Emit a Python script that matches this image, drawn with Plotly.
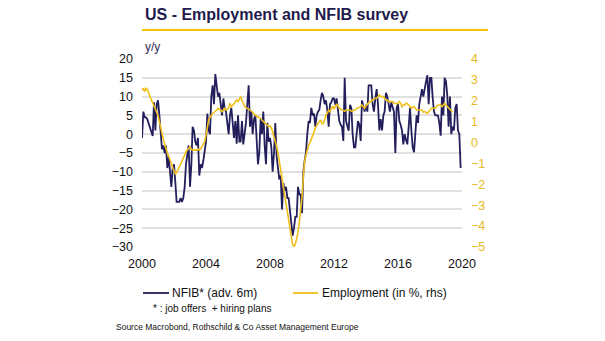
import plotly.graph_objects as go
import pandas as pd

# NFIB* (adv. 6m), monthly from Jan 2000, left axis
nfib_2000 = [-1, 6, 4.5, 4.5, 4, 3, 2, 1, -0.5, 8.5, 1, 8]
nfib_2001 = [9, 5, -1, -4, -3, -5, -3, -9, -6, -10, -14, -9]
nfib_2002 = [-8, -13, -18, -18, -18, -17, -18, -17, -14, -8, -5, -3]
nfib_2003 = [-14, -8, 2, 1, -2, -3, -1, -11, -8, -9, -7, -4]
nfib_2004 = [-2, 5.5, 1, 0, 10, 13, 8, 16, 12, 10, 11, 7]
nfib_2005 = [5, 9.5, 7, 6, 2, 0, 5, 7, 3, -1, 3.5, -2.5]
nfib_2006 = [5, -2, -2, 3.5, -2.7, 0, 3, 8, 13, 2, 6, 0]
nfib_2007 = [4, 5, 0, -8, -5, 4, 0, 6, -3, -8, 3, -2]
nfib_2008 = [-1, -3.5, -10, -5, 3, -6, -9, -12, -11, -20, -13, -15]
nfib_2009 = [-14, -17, -17, -21, -25, -27, -25, -22, -22, -14, -16, -16]
nfib_2010 = [-21, -10, -7, -5, 0, 3.5, 3, 7, 5, 5.5, 2, 5]
nfib_2011 = [6, 6.5, 9, 11, 10, 8, 9, 6.5, 2, 8, 8.5, 9.5]
nfib_2012 = [9.5, 7.8, 9.5, 6, 3.5, 2.5, 2, -1.8, 15, 3.5, 2, 0.9]
nfib_2013 = [7.8, 7, 0, -3.5, -3.5, 0, 3.5, 2.5, -1.8, 9, 7, 6]
nfib_2014 = [7.8, 6, 13, 13, 13, 8, 6, 9.5, 12, 8, 1, 4]
nfib_2015 = [1, 5, 6, 11, 10, 8, 6, 8.5, 7, 6, -5, 7]
nfib_2016 = [8, 3.5, 2.5, 1, -2.7, 0, -1.5, -2.7, 2, 7, 1, -3.5]
nfib_2017 = [-4.8, 0, 5, 3, 8, 10, 12, 10, 12.5, 14, 15.7, 8]
nfib_2018 = [15, 15, 10, 6, 5, 5, 5, 3, -0.4, 10, 5, 15]
nfib_2019 = [14, 10, 2, 10, 0, 2, 1, 7, 8, 1, 0, -9]

# Employment (in %, rhs), monthly from Jan 2000
emp_2000 = [2.5, 2.6, 2.44, 2.6, 2.55, 2.35, 2.2, 2.04, 1.9, 1.72, 1.6, 1.45]
emp_2001 = [1.3, 1.05, 0.75, 0.45, 0.15, -0.12, -0.35, -0.5, -0.65, -0.8, -1.0, -1.2]
emp_2002 = [-1.39, -1.5, -1.45, -1.31, -1.2, -1.07, -0.95, -0.75, -0.6, -0.44, -0.36, -0.28]
emp_2003 = [-0.2, -0.33, -0.36, -0.36, -0.36, -0.36, -0.3, -0.36, -0.3, -0.2, -0.12, 0.04]
emp_2004 = [0.36, 0.7, 1.08, 1.2, 1.32, 1.4, 1.44, 1.48, 1.56, 1.64, 1.6, 1.56]
emp_2005 = [1.48, 1.56, 1.64, 1.56, 1.6, 1.64, 1.88, 1.72, 1.8, 1.85, 1.96, 2.04]
emp_2006 = [1.96, 2.12, 2.2, 2.0, 1.9, 1.72, 1.68, 1.64, 1.64, 1.56, 1.52, 1.44]
emp_2007 = [1.4, 1.32, 1.24, 1.24, 1.2, 1.16, 1.08, 1.0, 0.92, 0.88, 0.84, 0.76]
emp_2008 = [0.8, 0.7, 0.52, 0.3, 0.1, -0.2, -0.5, -0.9, -1.3, -1.7, -2.1, -2.5]
emp_2009 = [-2.83, -3.3, -3.8, -4.2, -4.6, -4.9, -4.98, -4.85, -4.6, -4.3, -3.8, -3.2]
emp_2010 = [-2.6, -1.6, -0.9, -0.6, -0.3, -0.12, 0.0, 0.15, 0.36, 0.5, 0.7, 0.84]
emp_2011 = [0.92, 1.0, 1.08, 0.9, 0.9, 1.08, 1.32, 1.4, 1.56, 1.48, 1.6, 1.75]
emp_2012 = [1.6, 1.75, 1.85, 1.75, 1.64, 1.6, 1.56, 1.56, 1.5, 1.56, 1.56, 1.56]
emp_2013 = [1.56, 1.5, 1.5, 1.56, 1.56, 1.64, 1.64, 1.68, 1.72, 1.8, 1.72, 1.64]
emp_2014 = [1.75, 1.85, 1.9, 1.96, 1.96, 2.04, 2.1, 2.12, 2.12, 2.2, 2.28, 2.2]
emp_2015 = [2.2, 2.2, 2.12, 2.04, 2.04, 1.96, 1.96, 1.96, 1.96, 1.9, 1.88, 1.85]
emp_2016 = [1.88, 1.96, 1.88, 1.72, 1.8, 1.8, 1.88, 1.86, 1.8, 1.72, 1.64, 1.7]
emp_2017 = [1.72, 1.64, 1.56, 1.56, 1.56, 1.56, 1.56, 1.45, 1.48, 1.45, 1.4, 1.48]
emp_2018 = [1.56, 1.64, 1.64, 1.64, 1.64, 1.72, 1.8, 1.8, 1.8, 1.72, 1.8, 1.88]
emp_2019 = [1.8, 1.72, 1.64, 1.56, 1.5, 1.45]

x_ticks = [2000, 2004, 2008, 2012, 2016, 2020]
left_ticks = [20, 15, 10, 5, 0, -5, -10, -15, -20, -25, -30]
right_ticks = [4, 3, 2, 1, 0, -1, -2, -3, -4, -5]

nfib = (nfib_2000 + nfib_2001 + nfib_2002 + nfib_2003 + nfib_2004 + nfib_2005 + nfib_2006
        + nfib_2007 + nfib_2008 + nfib_2009 + nfib_2010 + nfib_2011 + nfib_2012 + nfib_2013
        + nfib_2014 + nfib_2015 + nfib_2016 + nfib_2017 + nfib_2018 + nfib_2019)
emp = (emp_2000 + emp_2001 + emp_2002 + emp_2003 + emp_2004 + emp_2005 + emp_2006 + emp_2007
       + emp_2008 + emp_2009 + emp_2010 + emp_2011 + emp_2012 + emp_2013 + emp_2014 + emp_2015
       + emp_2016 + emp_2017 + emp_2018 + emp_2019)

dates_nfib = pd.date_range("2000-01-01", periods=len(nfib), freq="MS")
dates_emp = pd.date_range("2000-01-01", periods=len(emp), freq="MS")

NAVY = "#231f5c"
GOLD = "#f0bf1a"
FONT = "Liberation Sans, Arial, sans-serif"

fig = go.Figure()
fig.add_trace(go.Scatter(x=dates_nfib, y=nfib, mode="lines", name="NFIB* (adv. 6m)",
                         line=dict(color=NAVY, width=1.8), yaxis="y"))
fig.add_trace(go.Scatter(x=dates_emp, y=emp, mode="lines", name="Employment (in %, rhs)",
                         line=dict(color=GOLD, width=1.6), yaxis="y2"))

L, R, T, B = 142, 143, 59, 94
W, H = 605, 341
pw, ph = W - L - R, H - T - B

def px(xp):
    return (xp - L) / pw

def py(yp):
    return (H - B - yp) / ph

fig.update_layout(
    width=W, height=H,
    margin=dict(l=L, r=R, t=T, b=B, pad=0),
    paper_bgcolor="white", plot_bgcolor="white",
    showlegend=False,
    font=dict(family=FONT, size=12, color="#111111"),
    xaxis=dict(type="date", range=["2000-01-01", "2020-01-01"],
               tickvals=[f"{y}-01-01" for y in x_ticks], ticktext=[str(y) for y in x_ticks],
               showgrid=False, zeroline=False, showline=False, ticks="",
               ticklabelstandoff=7,
               tickfont=dict(size=12.5, color="#111111")),
    yaxis=dict(range=[-30, 20], tickvals=left_ticks, showgrid=True,
               gridcolor="#e0e0e0", gridwidth=1.6, zeroline=False, showline=False,
               ticks="", ticklabelstandoff=8, tickfont=dict(size=12.5, color="#111111")),
    yaxis2=dict(range=[-5, 4], tickvals=right_ticks, overlaying="y", side="right",
                showgrid=False, zeroline=False, showline=False, ticks="",
                ticklabelstandoff=8, tickfont=dict(size=12.5, color="#e8b923")),
)

shapes = [
    dict(type="line", xref="paper", yref="paper", x0=px(142), x1=px(488), y0=py(30), y1=py(30),
         line=dict(color="#f5c400", width=2)),
    dict(type="line", xref="paper", yref="paper", x0=px(143), x1=px(169), y0=py(293), y1=py(293),
         line=dict(color=NAVY, width=1.8)),
    dict(type="line", xref="paper", yref="paper", x0=px(293), x1=px(318), y0=py(293), y1=py(293),
         line=dict(color=GOLD, width=1.8)),
]
fig.update_layout(shapes=shapes)

ann = [
    dict(text="<b>US - Employment and NFIB survey</b>", x=px(143), y=py(14), xanchor="left",
         yanchor="middle", font=dict(size=16, color="#1f1b4d")),
    dict(text="y/y", x=px(143), y=py(47), xanchor="left", yanchor="middle",
         font=dict(size=12, color="#2e2a5e")),
    dict(text="NFIB* (adv. 6m)", x=px(170), y=py(293), xanchor="left", yanchor="middle",
         font=dict(size=12, color="#111111")),
    dict(text="Employment (in %, rhs)", x=px(320), y=py(293), xanchor="left", yanchor="middle",
         font=dict(size=12, color="#111111")),
    dict(text="* : job offers  + hiring plans", x=px(151), y=py(308), xanchor="left",
         yanchor="middle", font=dict(size=10, color="#111111")),
    dict(text="Source Macrobond, Rothschild &amp; Co Asset Management Europe", x=px(114), y=py(327),
         xanchor="left", yanchor="middle", font=dict(size=8.5, color="#111111")),
]
for a in ann:
    a.update(xref="paper", yref="paper", showarrow=False)
fig.update_layout(annotations=ann)

fig.write_html("out.html")
